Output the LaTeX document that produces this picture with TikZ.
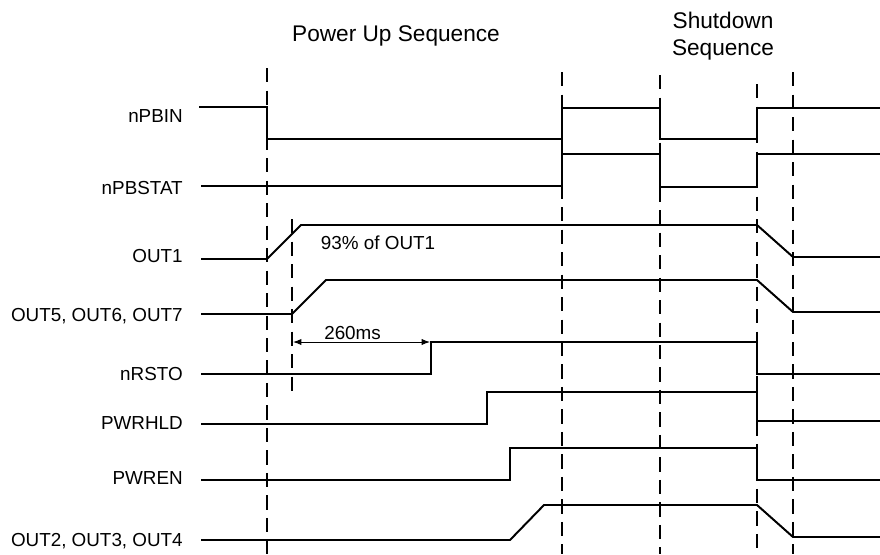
\documentclass[tikz,border=0pt]{standalone}
\usepackage{fontspec}
\setmainfont{Liberation Sans}
\usetikzlibrary{arrows.meta}
\tikzset{
  sig/.style={line width=1.4pt, line join=miter},
  guide/.style={line width=1.1pt, dash pattern=on 10pt off 6pt},
  lbl/.style={anchor=base east, inner sep=0pt, font=\fontsize{13.4}{16}\selectfont},
  note/.style={anchor=base west, inner sep=0pt, font=\fontsize{13.4}{16}\selectfont},
  ttl/.style={inner sep=0pt, align=center, font=\fontsize{16.1}{18.9}\selectfont},
  dim/.style={{Latex[length=6pt,width=4.5pt]}-{Latex[length=6pt,width=4.5pt]}, line width=.7pt},
}

\begin{document}
\begin{tikzpicture}[x=0.025cm, y=-0.025cm]
  \useasboundingbox (0,0) rectangle (880,554);
  \node[ttl, anchor=base] (ttlup) at (396,41.7) {Power Up Sequence};
  \node[ttl, anchor=north] (ttldown) at (723,12) {Shutdown\\Sequence};
  \foreach \gx/\gy in {267/68, 562/72, 660/75, 757/84, 793/72}
    \draw[guide] (\gx,\gy) -- (\gx,554);
  \draw[guide] (292,219) -- (292,392);
  \node[lbl] (lnpbin) at (183,122.7) {nPBIN};
  \node[lbl] (lnpbstat) at (183,194.3) {nPBSTAT};
  \node[lbl] (lout1) at (183,262.3) {OUT1};
  \node[lbl] (lout5) at (183,321.7) {OUT5, OUT6, OUT7};
  \node[lbl] (lnrsto) at (183,380) {nRSTO};
  \node[lbl] (lpwrhld) at (183,429.7) {PWRHLD};
  \node[lbl] (lpwren) at (183,484.7) {PWREN};
  \node[lbl] (lout2) at (183,546.7) {OUT2, OUT3, OUT4};
  \draw[sig] (199,107) -- (267,107) -- (267,139) -- (562,139) -- (562,108) -- (660,108) -- (660,139) -- (757,139) -- (757,108) -- (880,108);
  \draw[sig] (201,186) -- (562,186) -- (562,154) -- (660,154) -- (660,187) -- (757,187) -- (757,154) -- (880,154);
  \draw[sig] (201,259) -- (267,259) -- (301,225) -- (757,225) -- (793,257) -- (880,257);
  \draw[sig] (201,314) -- (292,314) -- (326,280) -- (757,280) -- (793,312) -- (880,312);
  \draw[sig] (201,374) -- (431,374) -- (431,342) -- (757,342) -- (757,374) -- (880,374);
  \draw[sig] (201,424) -- (487,424) -- (487,392) -- (757,392) -- (757,421) -- (880,421);
  \draw[sig] (201,480) -- (510,480) -- (510,448) -- (757,448) -- (757,480) -- (880,480);
  \draw[sig] (201,540) -- (510,540) -- (544,505) -- (757,505) -- (793,537) -- (880,537);
  \node[note] (npct) at (320.7,249) {93\% of OUT1};
  \coordinate (dimA) at (293,342);
  \coordinate (dimB) at (430,342);
  \draw[dim] (dimA) -- (dimB);
  \node[note] (ndelay) at (324,339) {260ms};
\end{tikzpicture}
\end{document}
